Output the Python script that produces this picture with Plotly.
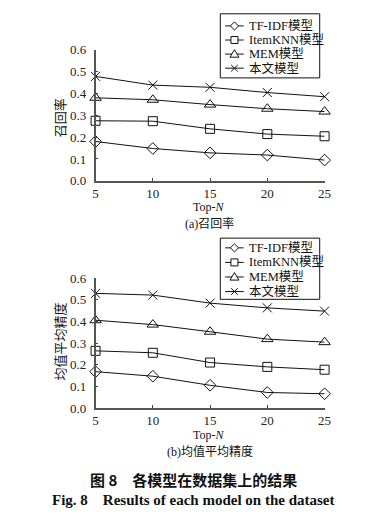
import plotly.graph_objects as go

top_n = [5, 10, 15, 20, 25]
series_names = ["TF-IDF模型", "ItemKNN模型", "MEM模型", "本文模型"]
recall_tfidf = [0.18, 0.148, 0.128, 0.118, 0.095]
recall_itemknn = [0.275, 0.273, 0.238, 0.214, 0.204]
recall_mem = [0.38, 0.371, 0.349, 0.33, 0.317]
recall_ours = [0.478, 0.438, 0.428, 0.404, 0.385]
map_tfidf = [0.168, 0.147, 0.105, 0.072, 0.066]
map_itemknn = [0.264, 0.255, 0.21, 0.19, 0.177]
map_mem = [0.405, 0.385, 0.352, 0.318, 0.304]
map_ours = [0.529, 0.521, 0.484, 0.462, 0.447]
y_ticks = [0.0, 0.1, 0.2, 0.3, 0.4, 0.5, 0.6]
y_ticklabels = ["0.0", "0.1", "0.2", "0.3", "0.4", "0.5", "0.6"]

symbols = ["diamond-open", "square-open", "triangle-up-open", "x-thin-open"]
sizes = [9, 9, 10, 9]

FONT = "Liberation Serif, Times New Roman, Noto Sans CJK SC, serif"
CJK = "Noto Sans CJK SC, Liberation Serif, serif"
INK = "#111111"

FW = 392.0
FH = 520.0


def px(x):
    return x / FW


def py(y):
    return (FH - y) / FH


fig = go.Figure()
panels = [("x", "y", [recall_tfidf, recall_itemknn, recall_mem, recall_ours]),
          ("x2", "y2", [map_tfidf, map_itemknn, map_mem, map_ours])]
for xa, ya, data in panels:
    for i, (name, ys) in enumerate(zip(series_names, data)):
        fig.add_trace(go.Scatter(
            x=top_n, y=ys, name=name, mode="lines+markers", showlegend=False,
            line=dict(color=INK, width=1),
            marker=dict(symbol=symbols[i], size=sizes[i], color=INK,
                        line=dict(color=INK, width=1)),
            cliponaxis=False, xaxis=xa, yaxis=ya))


# custom legend glyphs (pixel layout converted to paper coordinates)
def glyph_path(kind, cx, cy):
    if kind == 0:  # diamond
        r = 4.2
        pts = [(cx, cy - r), (cx + r, cy), (cx, cy + r), (cx - r, cy)]
    elif kind == 1:  # square
        r = 3.6
        pts = [(cx - r, cy - r), (cx + r, cy - r), (cx + r, cy + r), (cx - r, cy + r)]
    elif kind == 2:  # triangle
        pts = [(cx, cy - 4.6), (cx + 4.6, cy + 3.2), (cx - 4.6, cy + 3.2)]
    else:  # x
        r = 3.4
        return "M{},{} L{},{} M{},{} L{},{}".format(
            px(cx - r), py(cy - r), px(cx + r), py(cy + r),
            px(cx - r), py(cy + r), px(cx + r), py(cy - r))
    s = "M{},{}".format(px(pts[0][0]), py(pts[0][1]))
    for p in pts[1:]:
        s += " L{},{}".format(px(p[0]), py(p[1]))
    return s + " Z"


legend_boxes = [dict(x0=223, x1=325, y0=7, y1=73, rows=[19.5, 34, 48.5, 63]),
                dict(x0=223, x1=325, y0=238, y1=301, rows=[248, 263, 278, 293])]
for box in legend_boxes:
    fig.add_shape(type="rect", xref="paper", yref="paper",
                  x0=px(box["x0"]), x1=px(box["x1"]),
                  y0=py(box["y0"]), y1=py(box["y1"]),
                  line=dict(color=INK, width=1), fillcolor="white", layer="above")
    for i, name in enumerate(series_names):
        ry = box["rows"][i]
        fig.add_shape(type="line", xref="paper", yref="paper",
                      x0=px(228), x1=px(247), y0=py(ry), y1=py(ry),
                      line=dict(color=INK, width=1), layer="above")
        fig.add_shape(type="path", xref="paper", yref="paper",
                      path=glyph_path(i, 237.5, ry),
                      line=dict(color=INK, width=1),
                      fillcolor=("white" if i < 3 else None), layer="above")
        fig.add_annotation(text=name, x=px(250), y=py(ry), xref="paper", yref="paper",
                           showarrow=False, xanchor="left", yanchor="middle",
                           font=dict(family=FONT, size=12.5, color=INK))

xcommon = dict(range=[5, 25], tickvals=top_n, ticks="inside", ticklen=3,
               tickcolor="#444", showline=True, linecolor="#555", linewidth=1.5,
               showgrid=False, zeroline=False, tickfont=dict(family=FONT, size=13, color="#222"))
ycommon = dict(range=[0, 0.6], tickvals=y_ticks, ticktext=y_ticklabels, ticks="inside",
               ticklen=3, tickcolor="#444", showline=True, linecolor="#555", linewidth=1.5,
               showgrid=False, zeroline=False, ticklabelstandoff=5,
               tickfont=dict(family=FONT, size=13, color="#222"))

fig.update_layout(
    width=int(FW), height=int(FH),
    margin=dict(l=0, r=0, t=0, b=0),
    paper_bgcolor="white", plot_bgcolor="white",
    showlegend=False,
    xaxis=dict(domain=[px(95), px(330)], anchor="y", **xcommon),
    yaxis=dict(domain=[py(179), py(44)], anchor="x", **ycommon),
    xaxis2=dict(domain=[px(95), px(330)], anchor="y2", **xcommon),
    yaxis2=dict(domain=[py(413), py(279)], anchor="x2", **ycommon),
)


def ann(text, x, y, size=13, family=FONT, angle=0):
    fig.add_annotation(text=text, x=px(x), y=py(y), xref="paper", yref="paper",
                       showarrow=False, xanchor="center", yanchor="middle", textangle=angle,
                       font=dict(family=family, size=size, color=INK))


ann("召回率", 58, 114, size=13, family=CJK, angle=-90)
ann("均值平均精度", 58, 345, size=13, family=CJK, angle=-90)
ann("Top-<i>N</i>", 211, 206, size=12)
ann("(a)召回率", 212, 223, size=12)
ann("Top-<i>N</i>", 211, 441, size=12)
ann("(b)均值平均精度", 212, 458, size=12)
ann("<b>图 8　各模型在数据集上的结果</b>", 195, 487, size=15, family=CJK)
ann("<b>Fig. 8　Results of each model on the dataset</b>", 195, 508, size=15)

fig.write_html(
    "out.html",
    config={"displayModeBar": False},
    post_script="document.body.style.margin='0';"
                "document.documentElement.style.overflow='hidden';",
)
